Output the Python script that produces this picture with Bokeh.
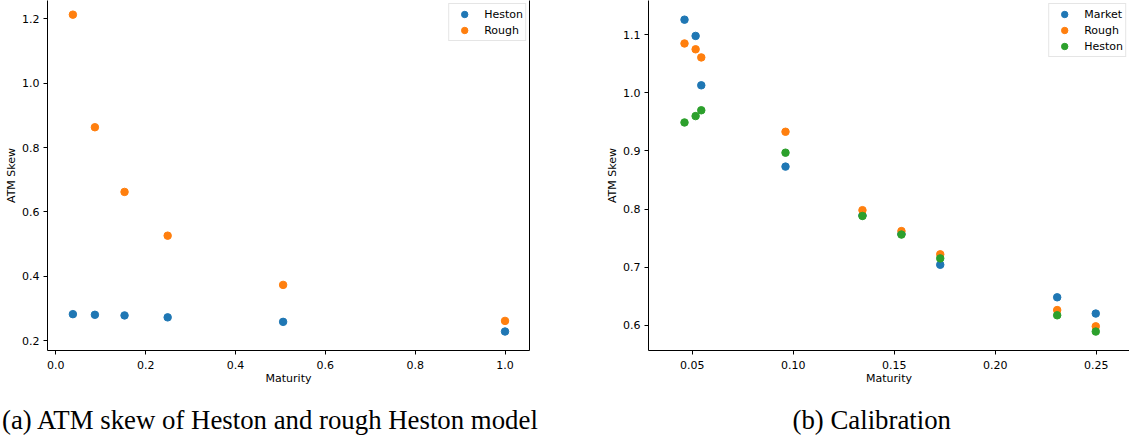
from bokeh.plotting import figure
from bokeh.layouts import row, column
from bokeh.models import Range1d, FixedTicker, PrintfTickFormatter, LinearAxis
from bokeh.core.properties import value
from bokeh.embed import file_html
from bokeh.resources import INLINE

# ---------------- data ----------------
# (a) ATM skew of Heston and rough Heston model
maturity_a = [0.038, 0.087, 0.153, 0.249, 0.506, 1.0]
heston_a = [0.282, 0.280, 0.278, 0.272, 0.258, 0.228]
rough_a = [1.213, 0.863, 0.662, 0.526, 0.373, 0.261]

# (b) Calibration
maturity_b = [0.0462, 0.0517, 0.0545, 0.0962, 0.1343, 0.1536, 0.1728, 0.2307, 0.2498]
market_b = [1.126, 1.098, 1.013, 0.873, 0.789, 0.757, 0.704, 0.648, 0.620]
rough_b = [1.085, 1.075, 1.061, 0.933, 0.798, 0.762, 0.722, 0.626, 0.598]
heston_b = [0.949, 0.960, 0.970, 0.897, 0.788, 0.756, 0.715, 0.617, 0.589]

xticks_a = [0.0, 0.2, 0.4, 0.6, 0.8, 1.0]
yticks_a = [0.2, 0.4, 0.6, 0.8, 1.0, 1.2]
xticks_b = [0.05, 0.10, 0.15, 0.20, 0.25]
yticks_b = [0.6, 0.7, 0.8, 0.9, 1.0, 1.1]

x_label = "Maturity"
y_label = "ATM Skew"
captions = ["(a) ATM skew of Heston and rough Heston model", "(b) Calibration"]

BLUE, ORANGE, GREEN = "#1f77b4", "#ff7f0e", "#2ca02c"
FONT = "DejaVu Sans"
FS = "11px"
MS = 7.5


def style_axes(p, xticks, yticks, xfmt, yfmt):
    p.xgrid.visible = False
    p.ygrid.visible = False
    p.outline_line_color = None
    p.xaxis.ticker = FixedTicker(ticks=xticks)
    p.yaxis.ticker = FixedTicker(ticks=yticks)
    p.xaxis.formatter = PrintfTickFormatter(format=xfmt)
    p.yaxis.formatter = PrintfTickFormatter(format=yfmt)
    for ax in (p.xaxis[0], p.yaxis[0]):
        ax.axis_line_color = "black"
        ax.axis_line_width = 1
        ax.major_tick_line_color = "black"
        ax.major_tick_line_width = 1
        ax.major_tick_out = 4
        ax.major_tick_in = 0
        ax.minor_tick_line_color = None
        ax.major_label_text_font = FONT
        ax.major_label_text_font_size = FS
        ax.major_label_text_color = "black"
        ax.axis_label_text_font = FONT
        ax.axis_label_text_font_size = FS
        ax.axis_label_text_font_style = "normal"
        ax.axis_label_text_color = "black"
    p.xaxis.major_label_standoff = 6
    p.xaxis.axis_label_standoff = 0
    p.yaxis.major_label_standoff = 4
    p.yaxis.axis_label_standoff = 1
    p.xaxis.axis_label = x_label
    p.yaxis.axis_label = y_label


def style_legend(p):
    lg = p.legend[0]
    lg.location = "top_right"
    lg.margin = 3
    lg.padding = 2
    lg.spacing = 0
    lg.glyph_width = 26
    lg.glyph_height = 16
    lg.label_height = 16
    lg.label_standoff = 7
    lg.label_text_font = FONT
    lg.label_text_font_size = FS
    lg.label_text_color = "black"
    lg.border_line_color = "#cccccc"
    lg.border_line_width = 1
    lg.background_fill_alpha = 0.8


# ---------------- (a) ----------------
p1 = figure(frame_width=482, frame_height=350, min_border_left=47, min_border_right=30,
            min_border_top=0, min_border_bottom=45,
            x_range=Range1d(-0.0185, 1.0545), y_range=Range1d(0.169, 1.257),
            toolbar_location=None, output_backend="svg")
style_axes(p1, xticks_a, yticks_a, "%.1f", "%.1f")
right_spine = LinearAxis(ticker=FixedTicker(ticks=[]), axis_line_color="black", axis_line_width=1,
                         major_tick_line_color=None, minor_tick_line_color=None)
p1.add_layout(right_spine, "right")
p1.scatter(maturity_a, heston_a, size=MS, color=BLUE, legend_label="Heston")
p1.scatter(maturity_a, rough_a, size=MS, color=ORANGE, legend_label="Rough")
style_legend(p1)

# ---------------- (b) ----------------
p2 = figure(frame_width=481, frame_height=350, min_border_left=89, min_border_right=0,
            min_border_top=0, min_border_bottom=45,
            x_range=Range1d(0.02837, 0.2665), y_range=Range1d(0.5564, 1.159),
            toolbar_location=None, output_backend="svg")
style_axes(p2, xticks_b, yticks_b, "%.2f", "%.1f")
p2.scatter(maturity_b, market_b, size=MS, color=BLUE, legend_label="Market")
p2.scatter(maturity_b, rough_b, size=MS, color=ORANGE, legend_label="Rough")
p2.scatter(maturity_b, heston_b, size=MS, color=GREEN, legend_label="Heston")
style_legend(p2)

# ---------------- captions ----------------
cap = figure(width=1129, height=43, x_range=Range1d(0, 1129), y_range=Range1d(0, 43),
             x_axis_location=None, y_axis_location=None, min_border=0,
             toolbar_location=None, output_backend="svg")
cap.xgrid.visible = False
cap.ygrid.visible = False
cap.outline_line_color = None
cap.text(x=[1.5, 792], y=[18.7, 18.7], text=captions, text_font=value("Liberation Serif"),
         text_font_size="26.8px", text_color="black", text_align="left",
         text_baseline="alphabetic")

layout = column(row(p1, p2, spacing=0), cap, spacing=0,
                styles={"position": "absolute", "left": "0px", "top": "0px"})

open("out.html", "w").write(file_html(layout, INLINE))
